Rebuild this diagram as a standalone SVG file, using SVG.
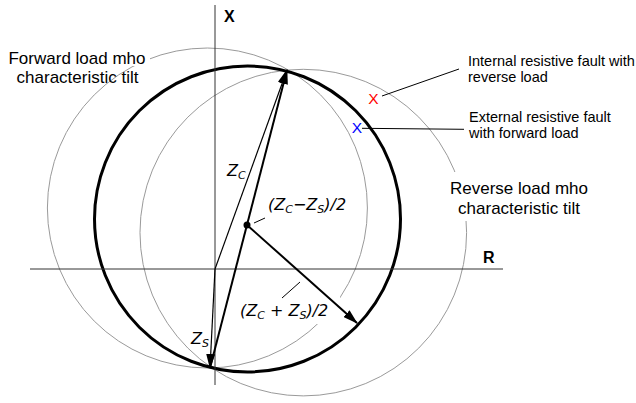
<svg xmlns="http://www.w3.org/2000/svg" width="636" height="403" viewBox="0 0 636 403">
<style>
.lbl{font-family:"Liberation Sans",Arial,sans-serif;fill:#000}
.big{font-size:17px}
.small{font-size:14.5px}
.axl{font-family:"Liberation Sans",Arial,sans-serif;font-weight:bold;font-size:16px}
.math{font-family:"DejaVu Sans",Verdana,sans-serif;font-style:italic;font-size:16px}
.sub{font-size:11px}
.gray{fill:none;stroke:#9a9a9a;stroke-width:1}
.axis{stroke:#333;stroke-width:1;fill:none}
.vec{stroke:#000;fill:none}
.lead{stroke:#000;stroke-width:1;fill:none}
.bg{fill:#fff}
</style>
<defs>
<marker id="ah" markerUnits="userSpaceOnUse" markerWidth="15" markerHeight="9" refX="14" refY="4.5" orient="auto">
<path d="M0,0 L15,4.5 L0,9 z" fill="#000"/>
</marker>
</defs>
<rect x="0" y="0" width="636" height="403" fill="#fff"/>
<g id="characteristics">
<circle id="forward-mho" class="gray" cx="207.4" cy="208" r="160"/>
<circle id="reverse-mho" class="gray" cx="303.3" cy="232.6" r="163.3"/>
<circle id="main-mho" cx="247.5" cy="219" r="153" fill="none" stroke="#000" stroke-width="3"/>
</g>
<g id="label-backgrounds">
<rect class="bg" x="5" y="48" width="145" height="18"/>
<rect class="bg" x="446" y="172" width="146" height="49"/>
<rect class="bg" x="236" y="296" width="104" height="28"/>
</g>
<g id="axes">
<line class="axis" x1="215" y1="5" x2="215" y2="385"/>
<line class="axis" x1="30" y1="269" x2="503" y2="269"/>
<text class="axl" x="224" y="22">X</text>
<text class="axl" x="483" y="263">R</text>
</g>
<g id="connectors">
<line id="zc" class="vec" stroke-width="1.2" x1="215" y1="269" x2="287" y2="70" marker-end="url(#ah)"/>
<line id="zs" class="vec" stroke-width="1.2" x1="215" y1="269" x2="210" y2="368" marker-end="url(#ah)"/>
<line id="zc-zs" class="vec" stroke-width="2" x1="210" y1="368" x2="287" y2="70" marker-end="url(#ah)"/>
<line id="radius" class="vec" stroke-width="2" x1="247" y1="225" x2="357" y2="323" marker-end="url(#ah)"/>
<line class="lead" x1="254" y1="223" x2="265" y2="218"/>
<line class="lead" x1="282" y1="298" x2="300" y2="282"/>
<line class="lead" x1="382" y1="96" x2="459" y2="69"/>
<line class="lead" x1="362" y1="128.3" x2="464" y2="129.3"/>
</g>
<g id="center">
<circle cx="247" cy="225" r="3.5" fill="#000"/>
</g>
<g id="forward-label">
<text class="lbl big" text-anchor="middle" x="77" y="64">Forward load mho</text>
<text class="lbl big" text-anchor="middle" x="77.5" y="83">characteristic tilt</text>
</g>
<g id="reverse-label">
<text class="lbl big" text-anchor="middle" x="519" y="194">Reverse load mho</text>
<text class="lbl big" text-anchor="middle" x="519" y="214">characteristic tilt</text>
</g>
<g id="internal-fault">
<text class="lbl" x="373.5" y="104" text-anchor="middle" font-size="15.5" fill="#ff0000" style="fill:#ff0000">X</text>
<text class="lbl small" x="468" y="66">Internal resistive fault with</text>
<text class="lbl small" x="468" y="82">reverse load</text>
</g>
<g id="external-fault">
<text class="lbl" x="357" y="133" text-anchor="middle" font-size="15.5" style="fill:#0000ff">X</text>
<text class="lbl small" x="469" y="122">External resistive fault</text>
<text class="lbl small" x="469" y="138">with forward load</text>
</g>
<g id="vector-labels">
<text class="math" x="227" y="176">Z<tspan class="sub" dy="3">C</tspan></text>
<text class="math" x="268" y="210">(Z<tspan class="sub" dy="3">C</tspan><tspan dy="-3">−Z</tspan><tspan class="sub" dy="3">S</tspan><tspan dy="-3">)/2</tspan></text>
<text class="math" x="240" y="316">(Z<tspan class="sub" dy="3">C</tspan><tspan dy="-3"> + Z</tspan><tspan class="sub" dy="3">S</tspan><tspan dy="-3">)/2</tspan></text>
<text class="math" x="191" y="344">Z<tspan class="sub" dy="3">S</tspan></text>
</g>
</svg>
